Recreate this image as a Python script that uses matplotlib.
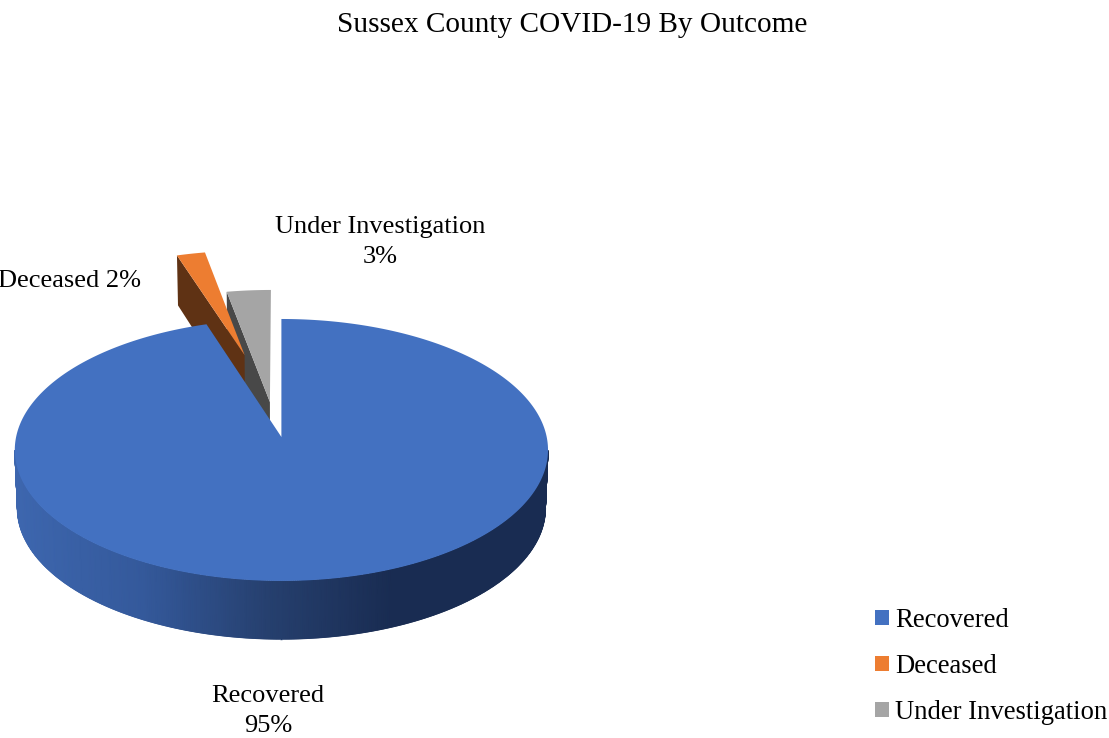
import numpy as np
import matplotlib
matplotlib.use('Agg')
import matplotlib.pyplot as plt
from matplotlib.collections import LineCollection
from matplotlib.colors import LinearSegmentedColormap
from matplotlib.patches import Patch, Polygon

title = 'Sussex County COVID-19 By Outcome'
categories = ['Recovered', 'Deceased', 'Under Investigation']
percents = [95, 2, 3]

top_colours = ['#4371c1', '#ed7d31', '#a5a5a5']
side_colours = [None, '#5f3214', '#484848']

# fake 3D pie: unit circle in the plane, projected with a bit of perspective
CX, CY = 281.4, 437
A, B, K = 265.3, 129.7, 0.099
DEPTH = 58
# where each slice's tip sits in the plane, fitted by eye
offsets = [(0.0, 0.0), (-0.148, 0.674), (-0.0445, 0.277)]

plt.rcParams['font.family'] = ['Liberation Serif', 'DejaVu Serif']


def project(u, v):
    w = 1 + K * v
    return CX + A * u / w, CY - B * v / w


def project_bottom(u, v):
    w = 1 + K * v
    drop = DEPTH / (1 + K * np.maximum(v, 0))
    return CX + 0.99 * A * u / w, CY - B * v / w + drop


def slice_points(start, end, offset, n=200):
    # angles in degrees, clockwise from twelve o'clock
    t = np.radians(np.linspace(start, end, n))
    u = np.concatenate([[offset[0]], offset[0] + np.sin(t)])
    v = np.concatenate([[offset[1]], offset[1] + np.cos(t)])
    x, y = project(u, v)
    return np.column_stack([x, y])


fig = plt.figure(figsize=(11.09, 7.38), dpi=100)
ax = fig.add_axes([0, 0, 1, 1])
ax.set_xlim(0, 1109)
ax.set_ylim(738, 0)
ax.axis('off')

edges = np.cumsum([0] + percents) * 3.6
starts, ends = edges[:-1], edges[1:]

# blue rim, dark to the right
t = np.radians(np.linspace(95.7, 264.3, 400))
u, v = np.sin(t), np.cos(t)
tx, ty = project(u, v)
bx, by = project_bottom(u, v)
rim_cmap = LinearSegmentedColormap.from_list('rim', ['#3d66ae', '#34599b', '#26406f', '#192c52', '#192c52'])
rim_shade = np.clip((tx - 17) / 500, 0, 1)
ax.pcolormesh(np.vstack([tx, bx]), np.vstack([ty, by]), np.vstack([rim_shade, rim_shade]),
              shading='gouraud', cmap=rim_cmap, vmin=0, vmax=1)
# the mesh edge is jagged, so run a thin line along it
segs = np.column_stack([bx[:-1], by[:-1], bx[1:], by[1:]]).reshape(-1, 2, 2)
outline = LineCollection(segs, array=rim_shade[:-1], cmap=rim_cmap, clim=(0, 1), linewidths=1.0)
ax.add_collection(outline)

# exploded slices, back to front
for i in [2, 1]:
    ou, ov = offsets[i]
    s = np.radians(starts[i])
    corner = (ou + np.sin(s), ov + np.cos(s))
    side = [project(ou, ov), project(*corner), project_bottom(*corner), project_bottom(ou, ov)]
    ax.add_patch(Polygon(side, closed=True, facecolor=side_colours[i], edgecolor='none'))
    ax.add_patch(Polygon(slice_points(starts[i], ends[i], offsets[i]), closed=True,
                         facecolor=top_colours[i], edgecolor='none'))

ax.add_patch(Polygon(slice_points(starts[0], ends[0], offsets[0], n=600), closed=True,
                     facecolor=top_colours[0], edgecolor='none'))

# text
ax.text(572.5, 25, title, fontsize=21.1, ha='center', va='center', color='black')
ax.text(268, 711, f'{categories[0]}\n{percents[0]}%', fontsize=19, ha='center', va='center',
        linespacing=1.5, color='black')
ax.text(141, 281, f'{categories[1]} {percents[1]}%', fontsize=19, ha='right', va='center', color='black')
ax.text(380, 242, f'{categories[2]}\n{percents[2]}%', fontsize=19, ha='center', va='center',
        linespacing=1.5, color='black')

handles = [Patch(facecolor=c, edgecolor='none', label=n) for c, n in zip(top_colours, categories)]
ax.legend(handles=handles, loc='lower right', bbox_to_anchor=(1115, 733), bbox_transform=ax.transData,
          frameon=False, fontsize=19.15, handlelength=0.53, handleheight=0.53, handletextpad=0.23,
          labelspacing=0.79, borderaxespad=0, borderpad=0.3)

fig.savefig('out.png', dpi=100)
plt.close(fig)
